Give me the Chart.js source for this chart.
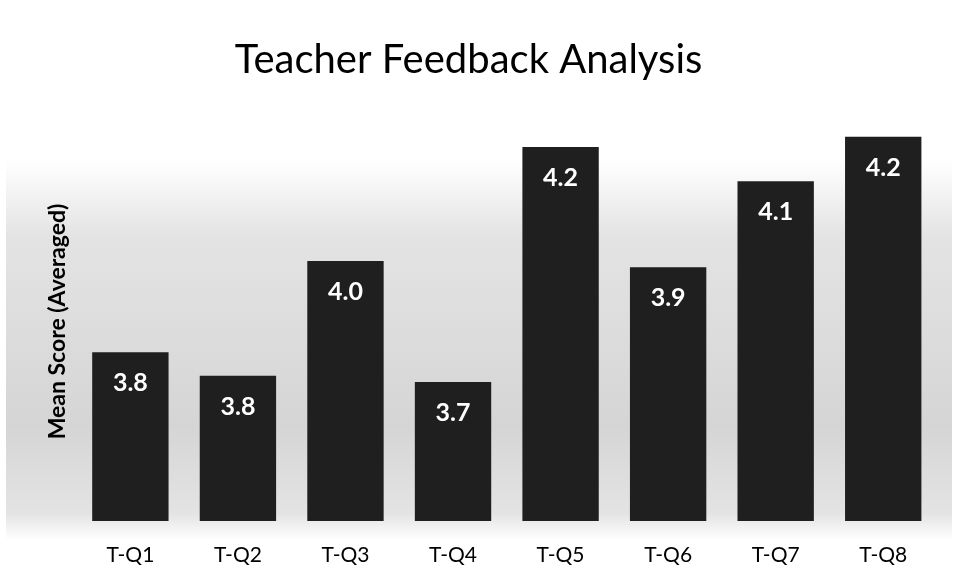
<!DOCTYPE html>
<html>
<head>
<meta charset="utf-8">
<script src="https://cdn.jsdelivr.net/npm/chart.js@4/dist/chart.umd.min.js"></script>
<style>
  html, body { margin: 0; padding: 0; background: #ffffff; }
  #wrap { width: 958px; height: 580px; position: relative; }
</style>
</head>
<body>
<div id="wrap"><canvas id="c" width="958" height="580"></canvas></div>
<script>
const categories = ["T-Q1", "T-Q2", "T-Q3", "T-Q4", "T-Q5", "T-Q6", "T-Q7", "T-Q8"];
const meanScores = [3.796, 3.755, 3.956, 3.744, 4.156, 3.945, 4.096, 4.174];
const chartTitle = "Teacher Feedback Analysis";
const yAxisTitle = "Mean Score (Averaged)";

const backdrop = {
  id: 'backdrop',
  beforeDraw(chart) {
    const ctx = chart.ctx;
    ctx.save();
    ctx.fillStyle = '#ffffff';
    ctx.fillRect(0, 0, chart.width, chart.height);
    const g = ctx.createLinearGradient(0, 160, 0, 540);
    g.addColorStop(0, 'rgba(200,200,200,0)');
    g.addColorStop(0.2, 'rgba(200,200,200,0.5)');
    g.addColorStop(0.7, 'rgba(195,195,195,0.7)');
    g.addColorStop(0.93, 'rgba(200,200,200,0.5)');
    g.addColorStop(1, 'rgba(200,200,200,0)');
    ctx.fillStyle = g;
    ctx.fillRect(6, 160, chart.width - 12, 380);
    ctx.restore();
  }
};

const valueLabels = {
  id: 'valueLabels',
  afterDatasetsDraw(chart) {
    const ctx = chart.ctx;
    const meta = chart.getDatasetMeta(0);
    ctx.save();
    ctx.fillStyle = '#ffffff';
    ctx.font = 'bold 25px Lato';
    ctx.textAlign = 'center';
    ctx.textBaseline = 'middle';
    meta.data.forEach((bar, i) => {
      ctx.fillText(meanScores[i].toFixed(1), bar.x, bar.y + 31);
    });
    ctx.restore();
  }
};

new Chart(document.getElementById('c'), {
  type: 'bar',
  data: {
    labels: categories,
    datasets: [{
      data: meanScores,
      backgroundColor: '#1f1f1f',
      borderWidth: 0,
      categoryPercentage: 1.0,
      barPercentage: 0.71
    }]
  },
  options: {
    responsive: false,
    animation: false,
    layout: { padding: { left: 0, right: 21, top: 0, bottom: 0 } },
    plugins: {
      legend: { display: false },
      tooltip: { enabled: false },
      title: {
        display: true,
        text: chartTitle,
        color: '#000000',
        font: { family: 'Lato', size: 40, weight: 'normal' },
        padding: { top: 36, bottom: 38 }
      }
    },
    scales: {
      x: {
        grid: { display: false, drawTicks: false },
        border: { display: false },
        ticks: { color: '#000000', font: { family: 'Lato', size: 21 }, padding: 22 },
        afterFit(scale) { scale.height = 59; }
      },
      y: {
        min: 3.5,
        max: 4.2,
        grid: { display: false, drawTicks: false },
        border: { display: false },
        ticks: { display: false },
        title: {
          display: true,
          text: yAxisTitle,
          color: '#000000',
          font: { family: 'Lato', size: 23, weight: 'bold' },
          padding: { top: 44, bottom: 5 }
        }
      }
    }
  },
  plugins: [backdrop, valueLabels]
});
</script>
</body>
</html>
